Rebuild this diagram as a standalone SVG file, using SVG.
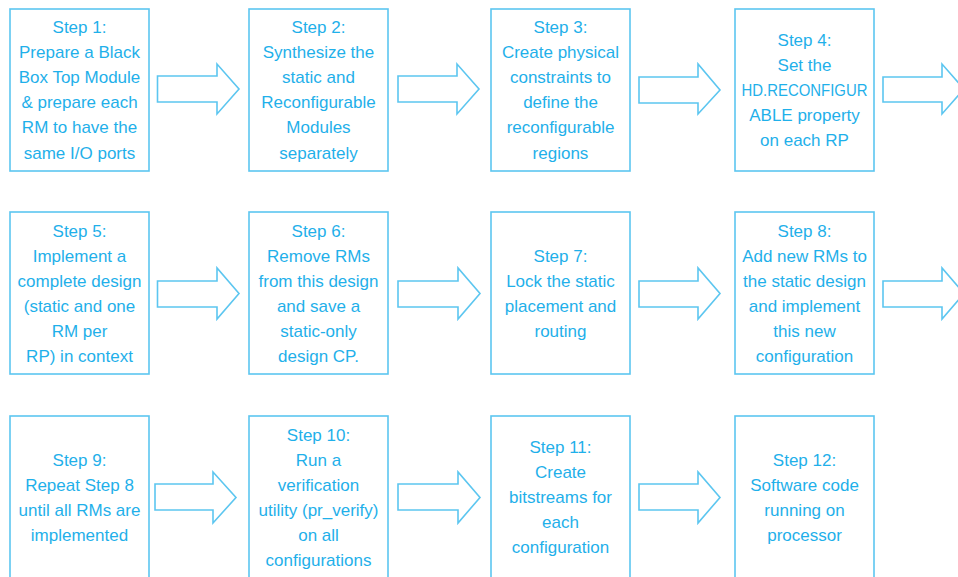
<svg xmlns="http://www.w3.org/2000/svg" width="958" height="577" viewBox="0 0 958 577">
  <style>
    .box { fill: #ffffff; stroke: #5cc6f0; stroke-width: 1.6; }
    .arrow { fill: #ffffff; stroke: #5cc6f0; stroke-width: 1.6; stroke-linejoin: miter; }
    .label { font-family: "Liberation Sans", Arial, sans-serif; font-size: 17px; fill: #1fb0ea; text-anchor: middle; }
  </style>
  <rect width="958" height="577" fill="#ffffff"/>

  <!-- connectors: block arrows between steps -->
  <g id="connectors">
    <polygon class="arrow" points="157.5,76 217,76 217,64 239,89 217,114 217,102 157.5,102"/>
    <polygon class="arrow" points="398,76 457,76 457,64 479,89 457,114 457,102 398,102"/>
    <polygon class="arrow" points="639,77 698,77 698,64 720,90 698,114 698,103 639,103"/>
    <polygon class="arrow" points="883,77 942,77 942,64 964,89 942,114 942,102 883,102"/>

    <polygon class="arrow" points="157.5,281 217,281 217,268 239,293.5 217,319 217,307 157.5,307"/>
    <polygon class="arrow" points="398,281 458,281 458,268 480,293.5 458,319 458,307 398,307"/>
    <polygon class="arrow" points="639,281 698,281 698,268 720,293.5 698,319 698,307 639,307"/>
    <polygon class="arrow" points="883,281 942,281 942,268 964,293.5 942,319 942,307 883,307"/>

    <polygon class="arrow" points="155,484 213,484 213,472 236,497.5 213,523 213,510 155,510"/>
    <polygon class="arrow" points="398,484 458,484 458,472 480,497.5 458,523 458,510 398,510"/>
    <polygon class="arrow" points="639,484 698,484 698,472 720,497.5 698,523 698,510 639,510"/>
  </g>

  <!-- row 1 -->
  <g id="step1">
    <rect class="box" x="10" y="9" width="139" height="162"/>
    <text class="label" x="79.5" y="33">Step 1:</text>
    <text class="label" x="79.5" y="58">Prepare a Black</text>
    <text class="label" x="79.5" y="83">Box Top Module</text>
    <text class="label" x="79.5" y="108">&amp; prepare each</text>
    <text class="label" x="79.5" y="133">RM to have the</text>
    <text class="label" x="79.5" y="159">same I/O ports</text>
  </g>
  <g id="step2">
    <rect class="box" x="249" y="9" width="139" height="162"/>
    <text class="label" x="318.5" y="33">Step 2:</text>
    <text class="label" x="318.5" y="58">Synthesize the</text>
    <text class="label" x="318.5" y="83">static and</text>
    <text class="label" x="318.5" y="108">Reconfigurable</text>
    <text class="label" x="318.5" y="133">Modules</text>
    <text class="label" x="318.5" y="159">separately</text>
  </g>
  <g id="step3">
    <rect class="box" x="491" y="9" width="139" height="162"/>
    <text class="label" x="560.5" y="33">Step 3:</text>
    <text class="label" x="560.5" y="58">Create physical</text>
    <text class="label" x="560.5" y="83">constraints to</text>
    <text class="label" x="560.5" y="108">define the</text>
    <text class="label" x="560.5" y="133">reconfigurable</text>
    <text class="label" x="560.5" y="159">regions</text>
  </g>
  <g id="step4">
    <rect class="box" x="735" y="9" width="139" height="162"/>
    <text class="label" x="804.5" y="46">Step 4:</text>
    <text class="label" x="804.5" y="71">Set the</text>
    <text class="label" x="804.5" y="96" textLength="126" lengthAdjust="spacingAndGlyphs">HD.RECONFIGUR</text>
    <text class="label" x="804.5" y="121">ABLE property</text>
    <text class="label" x="804.5" y="146">on each RP</text>
  </g>

  <!-- row 2 -->
  <g id="step5">
    <rect class="box" x="10" y="212" width="139" height="162"/>
    <text class="label" x="79.5" y="237">Step 5:</text>
    <text class="label" x="79.5" y="262">Implement a</text>
    <text class="label" x="79.5" y="287">complete design</text>
    <text class="label" x="79.5" y="312">(static and one</text>
    <text class="label" x="79.5" y="337">RM per</text>
    <text class="label" x="79.5" y="362">RP) in context</text>
  </g>
  <g id="step6">
    <rect class="box" x="249" y="212" width="139" height="162"/>
    <text class="label" x="318.5" y="237">Step 6:</text>
    <text class="label" x="318.5" y="262">Remove RMs</text>
    <text class="label" x="318.5" y="287">from this design</text>
    <text class="label" x="318.5" y="312">and save a</text>
    <text class="label" x="318.5" y="337">static-only</text>
    <text class="label" x="318.5" y="362">design CP.</text>
  </g>
  <g id="step7">
    <rect class="box" x="491" y="212" width="139" height="162"/>
    <text class="label" x="560.5" y="262">Step 7:</text>
    <text class="label" x="560.5" y="287">Lock the static</text>
    <text class="label" x="560.5" y="312">placement and</text>
    <text class="label" x="560.5" y="337">routing</text>
  </g>
  <g id="step8">
    <rect class="box" x="735" y="212" width="139" height="162"/>
    <text class="label" x="804.5" y="237">Step 8:</text>
    <text class="label" x="804.5" y="262">Add new RMs to</text>
    <text class="label" x="804.5" y="287">the static design</text>
    <text class="label" x="804.5" y="312">and implement</text>
    <text class="label" x="804.5" y="337">this new</text>
    <text class="label" x="804.5" y="362">configuration</text>
  </g>

  <!-- row 3 -->
  <g id="step9">
    <rect class="box" x="10" y="416" width="139" height="164"/>
    <text class="label" x="79.5" y="466">Step 9:</text>
    <text class="label" x="79.5" y="491">Repeat Step 8</text>
    <text class="label" x="79.5" y="516">until all RMs are</text>
    <text class="label" x="79.5" y="541">implemented</text>
  </g>
  <g id="step10">
    <rect class="box" x="249" y="416" width="139" height="164"/>
    <text class="label" x="318.5" y="441">Step 10:</text>
    <text class="label" x="318.5" y="466">Run a</text>
    <text class="label" x="318.5" y="491">verification</text>
    <text class="label" x="318.5" y="516">utility (pr_verify)</text>
    <text class="label" x="318.5" y="541">on all</text>
    <text class="label" x="318.5" y="566">configurations</text>
  </g>
  <g id="step11">
    <rect class="box" x="491" y="416" width="139" height="164"/>
    <text class="label" x="560.5" y="453">Step 11:</text>
    <text class="label" x="560.5" y="478">Create</text>
    <text class="label" x="560.5" y="503">bitstreams for</text>
    <text class="label" x="560.5" y="528">each</text>
    <text class="label" x="560.5" y="553">configuration</text>
  </g>
  <g id="step12">
    <rect class="box" x="735" y="416" width="139" height="164"/>
    <text class="label" x="804.5" y="466">Step 12:</text>
    <text class="label" x="804.5" y="491">Software code</text>
    <text class="label" x="804.5" y="516">running on</text>
    <text class="label" x="804.5" y="541">processor</text>
  </g>
</svg>
